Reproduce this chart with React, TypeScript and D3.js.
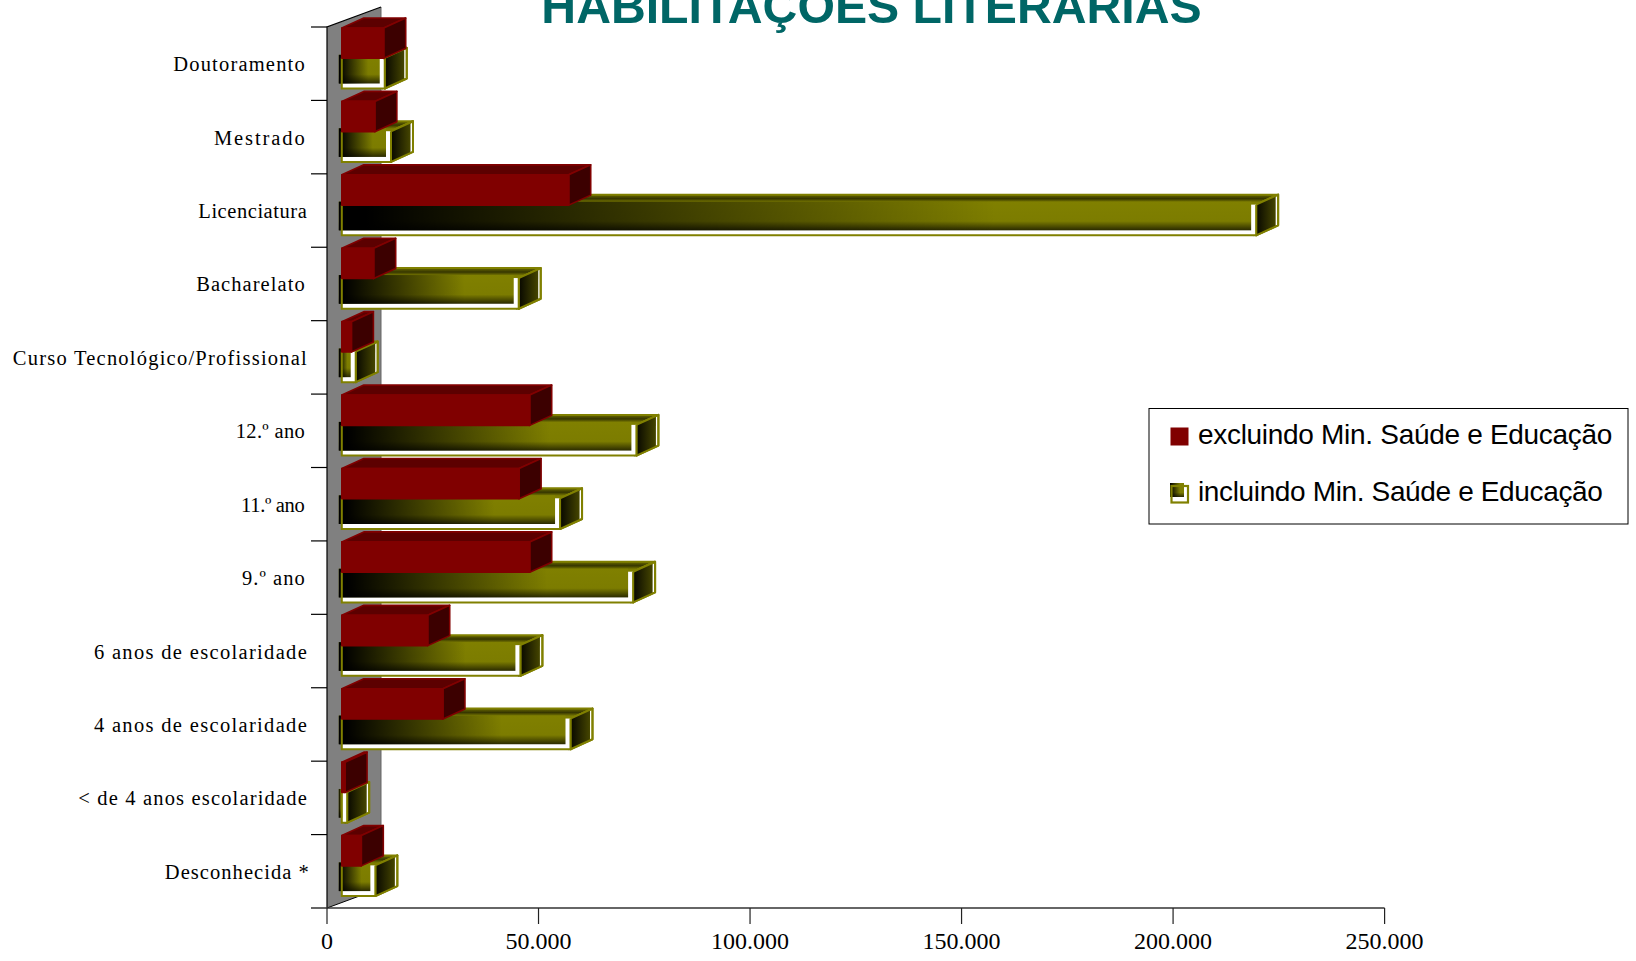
import React from 'react';
import * as d3 from 'd3';

const categories = [
  'Doutoramento', 'Mestrado', 'Licenciatura', 'Bacharelato', 'Curso Tecnológico/Profissional',
  '12.º ano', '11.º ano', '9.º ano', '6 anos de escolaridade', '4 anos de escolaridade',
  '< de 4 anos escolaridade', 'Desconhecida *',
];
const excluindo = [10100, 8000, 53830, 7730, 2460, 44610, 42100, 44610, 20500, 24100, 960, 4800];
const incluindo = [10340, 11820, 216330, 42010, 3480, 69830, 51780, 69050, 42410, 54250, 1460, 8120];
const xTicks = [0, 50000, 100000, 150000, 200000, 250000];
const seriesNames = ['excluindo Min. Saúde e Educação', 'incluindo Min. Saúde e Educação'];
// the source renders labels with loose, uneven spacing, so fit them to their measured widths
const labelWidths = [131.5, 90.8, 108.5, 108.5, 294, 68.9, 63.6, 62.6, 212.9, 212.9, 228.5, 144];
const labelEnds = [304.7, 304.7, 306.8, 304.7, 306.8, 304.7, 304.7, 304.7, 306.8, 306.8, 306.8, 308.8];

const WIDTH = 1636;
const HEIGHT = 961;
const axisY = 908;
const topY = 27;
const axisX = 327;
// bars stand a bit in front of the back wall
const frontDx = 14;
const depthX = 22;
const depthY = 10;
const wallDx = 54;
const wallDy = 20;
const serif = '"Liberation Serif", serif';
const sans = '"Liberation Sans", sans-serif';

const xScale = d3.scaleLinear().domain([0, 250000]).range([axisX, 1384.6]);
const yScale = d3.scaleBand<string>().domain(categories).range([topY, axisY]);
const fmt = (v: number) => (v === 0 ? '0' : d3.format(',')(v).replace(/,/g, '.'));

const pts = (p: number[][]) => p.map((d) => d.join(',')).join(' ');

const RedBar = ({ x0, x1, y0, y1 }: any) => (
  <g stroke="#800000" strokeWidth={1.6} strokeLinejoin="round">
    <polygon fill="#5c0000" points={pts([[x0, y0], [x0 + depthX, y0 - depthY], [x1 + depthX, y0 - depthY], [x1, y0]])} />
    <polygon fill="#3c0000" points={pts([[x1, y0], [x1 + depthX, y0 - depthY], [x1 + depthX, y1 - depthY], [x1, y1]])} />
    <rect x={x0} y={y0} width={x1 - x0} height={y1 - y0} fill="#800000" />
  </g>
);

const OliveBar = ({ x0, x1, y0, y1 }: any) => {
  const top = pts([[x0, y0], [x0 + depthX, y0 - depthY], [x1 + depthX, y0 - depthY], [x1, y0]]);
  const side = pts([[x1, y0], [x1 + depthX, y0 - depthY], [x1 + depthX, y1 - depthY], [x1, y1]]);
  const fillW = Math.max(0, x1 - 5 - (x0 - 3));
  return (
    <g>
      <polygon points={top} fill="url(#oliveTop)" stroke="#808000" strokeWidth={2} strokeLinejoin="round" />
      <polygon points={side} fill="#fff" stroke="#808000" strokeWidth={2} strokeLinejoin="round" />
      <polygon points={side} fill="url(#oliveSide)" transform="translate(-2.5,1)" />
      <polygon points={side} fill="none" stroke="#808000" strokeWidth={2} strokeLinejoin="round" />
      <rect x={x0} y={y0} width={x1 - x0} height={y1 - y0} fill="#fff" />
      <rect x={x0 - 3} y={y0 - 3} width={fillW} height={y1 - y0 - 2} fill="url(#oliveV)" />
      <rect x={x0 - 3} y={y0 - 3} width={fillW} height={y1 - y0 - 2} fill="url(#darkH)" />
      <polyline points={pts([[x0, y0], [x0, y1], [x1, y1], [x1, y0]])} fill="none" stroke="#808000" strokeWidth={2} />
    </g>
  );
};

export default function App() {
  const band = yScale.bandwidth();
  return (
    <svg width={WIDTH} height={HEIGHT} style={{ position: 'absolute', left: 0, top: 0, background: '#fff' }}>
      <defs>
        <linearGradient id="oliveV" x1="0" y1="0" x2="0" y2="1">
          <stop offset="0" stopColor="#808000" />
          <stop offset="0.68" stopColor="#7c7c00" />
          <stop offset="1" stopColor="#2a2a00" />
        </linearGradient>
        <linearGradient id="darkH" x1="0" y1="0" x2="1" y2="0">
          <stop offset="0" stopColor="#000" stopOpacity="1" />
          <stop offset="0.03" stopColor="#000" stopOpacity="1" />
          <stop offset="0.72" stopColor="#000" stopOpacity="0" />
        </linearGradient>
        <linearGradient id="oliveSide" x1="0" y1="0" x2="1" y2="0">
          <stop offset="0" stopColor="#000" />
          <stop offset="1" stopColor="#454500" />
        </linearGradient>
        <linearGradient id="oliveTop" x1="0" y1="0" x2="0" y2="1">
          <stop offset="0" stopColor="#6a6a00" />
          <stop offset="0.4" stopColor="#363600" />
          <stop offset="0.75" stopColor="#7c7c00" />
          <stop offset="1" stopColor="#808000" />
        </linearGradient>
      </defs>

      <text x={871.5} y={23} textAnchor="middle" fontFamily={sans} fontWeight="bold" fontSize={48.2} fill="#006666">
        HABILITAÇÕES LITERÁRIAS
      </text>

      {/* back wall */}
      <polygon
        points={pts([[axisX, topY], [axisX + wallDx, topY - wallDy], [axisX + wallDx, axisY - wallDy], [axisX, axisY]])}
        fill="#808080"
      />
      <line x1={axisX + wallDx} x2={axisX + wallDx} y1={topY - wallDy} y2={axisY - wallDy} stroke="#666" strokeWidth={1} />
      <polyline
        points={pts([[axisX, axisY], [axisX, topY], [axisX + wallDx, topY - wallDy]])}
        fill="none" stroke="#000" strokeWidth={1.2}
      />
      <line x1={axisX} y1={axisY} x2={axisX + wallDx} y2={axisY - wallDy} stroke="#000" strokeWidth={1} />

      {/* axes */}
      <line x1={311} x2={xScale(250000)} y1={axisY} y2={axisY} stroke="#333" strokeWidth={1.3} />
      {xTicks.map((t) => (
        <g key={t}>
          <line x1={xScale(t)} x2={xScale(t)} y1={axisY} y2={924} stroke="#222" strokeWidth={1.2} />
          <text x={xScale(t)} y={949} textAnchor="middle" fontFamily={serif} fontSize={24} fill="#000">{fmt(t)}</text>
        </g>
      ))}
      {categories.map((c, i) => (
        <g key={c}>
          <line x1={311} x2={axisX} y1={yScale(c)!} y2={yScale(c)!} stroke="#000" strokeWidth={1.2} />
          <text
            x={labelEnds[i]} y={yScale(c)! + band / 2 + 7.5} textAnchor="end" fontFamily={serif} fontSize={20.5}
            textLength={labelWidths[i]} lengthAdjust="spacing" fill="#000"
          >
            {c}
          </text>
        </g>
      ))}

      {/* bars, olive first so the red one sits over it */}
      {categories.map((c, i) => {
        const t = yScale(c)!;
        const x0 = xScale(0) + frontDx;
        return (
          <g key={c}>
            <OliveBar x0={x0 + 0.8} x1={xScale(incluindo[i]) + frontDx} y0={t + 30.8} y1={t + 61.5} />
            <RedBar x0={x0 + 0.8} x1={xScale(excluindo[i]) + frontDx} y0={t + 1} y1={t + 31.3} />
          </g>
        );
      })}

      {/* legend */}
      <rect x={1149} y={408.5} width={479} height={115.5} fill="#fff" stroke="#000" strokeWidth={1} />
      <rect x={1171} y={428} width={17} height={17} fill="#800000" stroke="#800000" strokeWidth={1} />
      <text x={1198} y={444} fontFamily={sans} fontSize={28} letterSpacing={-0.3} fill="#000">{seriesNames[0]}</text>
      <rect x={1170} y={483} width={14} height={14} fill="url(#oliveV)" />
      <rect x={1170} y={483} width={14} height={14} fill="url(#darkH)" />
      <rect x={1171.5} y={486} width={16.5} height={16.5} fill="none" stroke="#808000" strokeWidth={2.2} />
      <text x={1198} y={501} fontFamily={sans} fontSize={28} letterSpacing={-0.36} fill="#000">{seriesNames[1]}</text>
    </svg>
  );
}
